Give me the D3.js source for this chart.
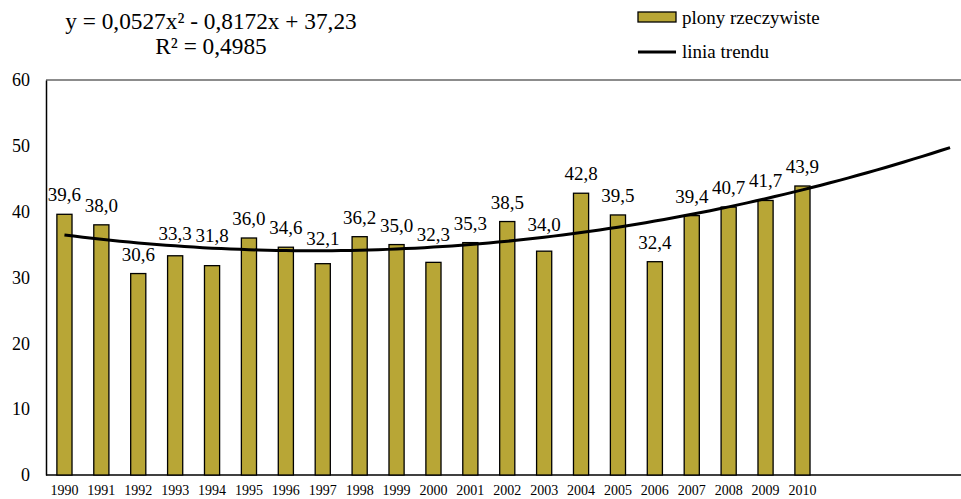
<!DOCTYPE html>
<html>
<head>
<meta charset="utf-8">
<script src="https://cdn.jsdelivr.net/npm/d3@7"></script>
<style>
  html, body { margin: 0; padding: 0; background: #fff; }
</style>
</head>
<body>
<svg id="chart" width="961" height="499"></svg>
<script>
// Yields per year (actual values)
const years = ["1990","1991","1992","1993","1994","1995","1996","1997","1998","1999","2000",
               "2001","2002","2003","2004","2005","2006","2007","2008","2009","2010"];
const yields = [39.6, 38.0, 30.6, 33.3, 31.8, 36.0, 34.6, 32.1, 36.2, 35.0, 32.3,
                35.3, 38.5, 34.0, 42.8, 39.5, 32.4, 39.4, 40.7, 41.7, 43.9];
// Extra periods covered by the trend projection
const forecastYears = ["2011","2012","2013","2014","2015"];
// Polynomial trend: y = a x^2 + b x + c, x = 1, 2, ...
const trendCoef = [0.0527, -0.8172, 37.23];
const trendLastPeriod = 25;
const yTicks = [0, 10, 20, 30, 40, 50, 60];

const FONT = "Liberation Serif, Tinos, Times New Roman, serif";
const svg = d3.select("#chart").attr("font-family", FONT);
const margin = { left: 46 };
const allCats = years.concat(forecastYears);

const x = d3.scaleBand()
  .domain(allCats)
  .range([margin.left, margin.left + 36.9 * allCats.length])
  .paddingInner(0.59)
  .paddingOuter(0.295);

const y = d3.scaleLinear().domain([0, 60]).range([475, 80]);

const fmt = v => v.toFixed(1).replace(".", ",");
const trendAt = t => trendCoef[0] * t * t + trendCoef[1] * t + trendCoef[2];
// x pixel of the n-th period (1-based), at the centre of its band
const periodX = t => x(allCats[0]) + x.bandwidth() / 2 + x.step() * (t - 1);

// Top frame line
svg.append("line")
  .attr("x1", margin.left).attr("x2", 961)
  .attr("y1", y(60)).attr("y2", y(60))
  .attr("stroke", "#666").attr("stroke-width", 1.5);

// Y axis
const yAxis = svg.append("g")
  .attr("transform", `translate(${margin.left},0)`)
  .call(d3.axisLeft(y).tickValues(yTicks).tickSize(0).tickPadding(16));
yAxis.attr("font-family", FONT).attr("font-size", 18);
yAxis.select(".domain").attr("stroke", "#000").attr("stroke-width", 1.5);
yAxis.selectAll("text").attr("fill", "#000");

// X axis
const xAxis = svg.append("g")
  .attr("transform", `translate(0,${y(0)})`)
  .call(d3.axisBottom(x).tickValues(years).tickSize(0).tickPadding(10));
xAxis.attr("font-family", FONT).attr("font-size", 14);
xAxis.select(".domain").remove();
xAxis.selectAll("text").attr("fill", "#000");
svg.append("line")
  .attr("x1", margin.left).attr("x2", 961)
  .attr("y1", y(0)).attr("y2", y(0))
  .attr("stroke", "#000").attr("stroke-width", 1.5);

const rows = years.map((yr, i) => ({ yr, v: yields[i], t: i + 1 }));

// Bars
svg.append("g").selectAll("rect")
  .data(rows)
  .join("rect")
  .attr("x", d => x(d.yr))
  .attr("width", x.bandwidth())
  .attr("y", d => y(d.v))
  .attr("height", d => y(0) - y(d.v))
  .attr("fill", "#b8a636")
  .attr("stroke", "#000")
  .attr("stroke-width", 1.3);

// Value labels: above the bar, lifted over the trend curve when they would cross it
const labelBaseline = d => {
  const base = y(d.v) - 13;
  const ty = y(trendAt(d.t));
  const crosses = base + 4 > ty && base - 14 < ty;
  return crosses ? ty - 6 : base;
};
svg.append("g").attr("font-size", 19).selectAll("text")
  .data(rows)
  .join("text")
  .attr("x", d => x(d.yr) + x.bandwidth() / 2)
  .attr("y", labelBaseline)
  .attr("text-anchor", "middle")
  .attr("fill", "#000")
  .text(d => fmt(d.v));

// Trend curve
const trendPts = d3.range(1, trendLastPeriod + 0.001, 0.25).map(t => [periodX(t), y(trendAt(t))]);
svg.append("path")
  .attr("d", d3.line().curve(d3.curveMonotoneX)(trendPts))
  .attr("fill", "none")
  .attr("stroke", "#000")
  .attr("stroke-width", 3);

// Equation and R²
const eq = svg.append("g").attr("font-size", 23.3).attr("fill", "#000").attr("text-anchor", "middle");
eq.append("text").attr("x", 211).attr("y", 29).text("y = 0,0527x² - 0,8172x + 37,23");
eq.append("text").attr("x", 211).attr("y", 54).text("R² = 0,4985");

// Legend
const lg = svg.append("g").attr("font-size", 19);
lg.append("rect")
  .attr("x", 638).attr("y", 12).attr("width", 38).attr("height", 10)
  .attr("fill", "#b8a636").attr("stroke", "#000").attr("stroke-width", 1.3);
lg.append("text").attr("x", 682).attr("y", 24).text("plony rzeczywiste");
lg.append("line")
  .attr("x1", 638).attr("x2", 676).attr("y1", 52).attr("y2", 52)
  .attr("stroke", "#000").attr("stroke-width", 3);
lg.append("text").attr("x", 682).attr("y", 58).text("linia trendu");
</script>
</body>
</html>
